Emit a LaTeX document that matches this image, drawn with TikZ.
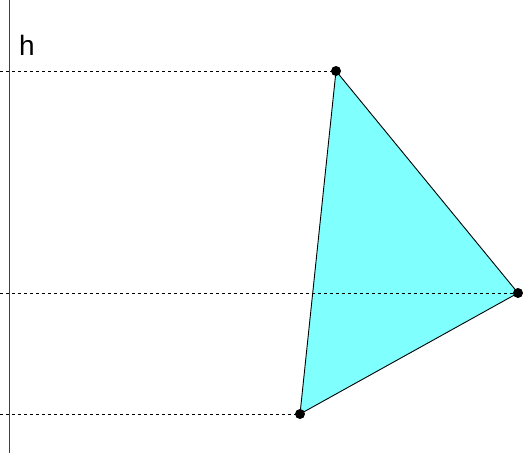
\documentclass[tikz,border=0pt]{standalone}
\usepackage{fontspec}
\setmainfont{Liberation Sans}
\begin{document}
\begin{tikzpicture}[x=1pt,y=-1pt,
  guide/.style={line width=0.8pt, dash pattern=on 3pt off 3pt, black},
  edge/.style={line width=0.9pt, black},
  pt/.style={circle, fill=black, inner sep=0pt, minimum size=10pt}]
\useasboundingbox (0,0) rectangle (529,461);
\fill[white] (0,0) rectangle (529,461);
\coordinate (atop) at (9.5,0);
\coordinate (abot) at (9.5,453);
\draw[line width=1.1pt, black!75] (atop) -- (abot);
\node[anchor=base west, inner sep=0pt, font=\fontsize{28}{30}\selectfont] (h) at (19,55) {h};
\coordinate (A) at (336,71);
\coordinate (B) at (518,293);
\coordinate (C) at (300,414);
\fill[fill={rgb,255:red,128;green,255;blue,255}] (A) -- (B) -- (C) -- cycle;
\coordinate (lA) at (0,71);
\coordinate (lB) at (0,293);
\coordinate (lC) at (0,414);
\draw[guide] (lA) -- (A);
\draw[guide] (lB) -- (B);
\draw[guide] (lC) -- (C);
\draw[edge] (A) -- (B) -- (C) -- cycle;
\node[pt] (pA) at (A) {};
\node[pt] (pB) at (B) {};
\node[pt] (pC) at (C) {};
\end{tikzpicture}
\end{document}
